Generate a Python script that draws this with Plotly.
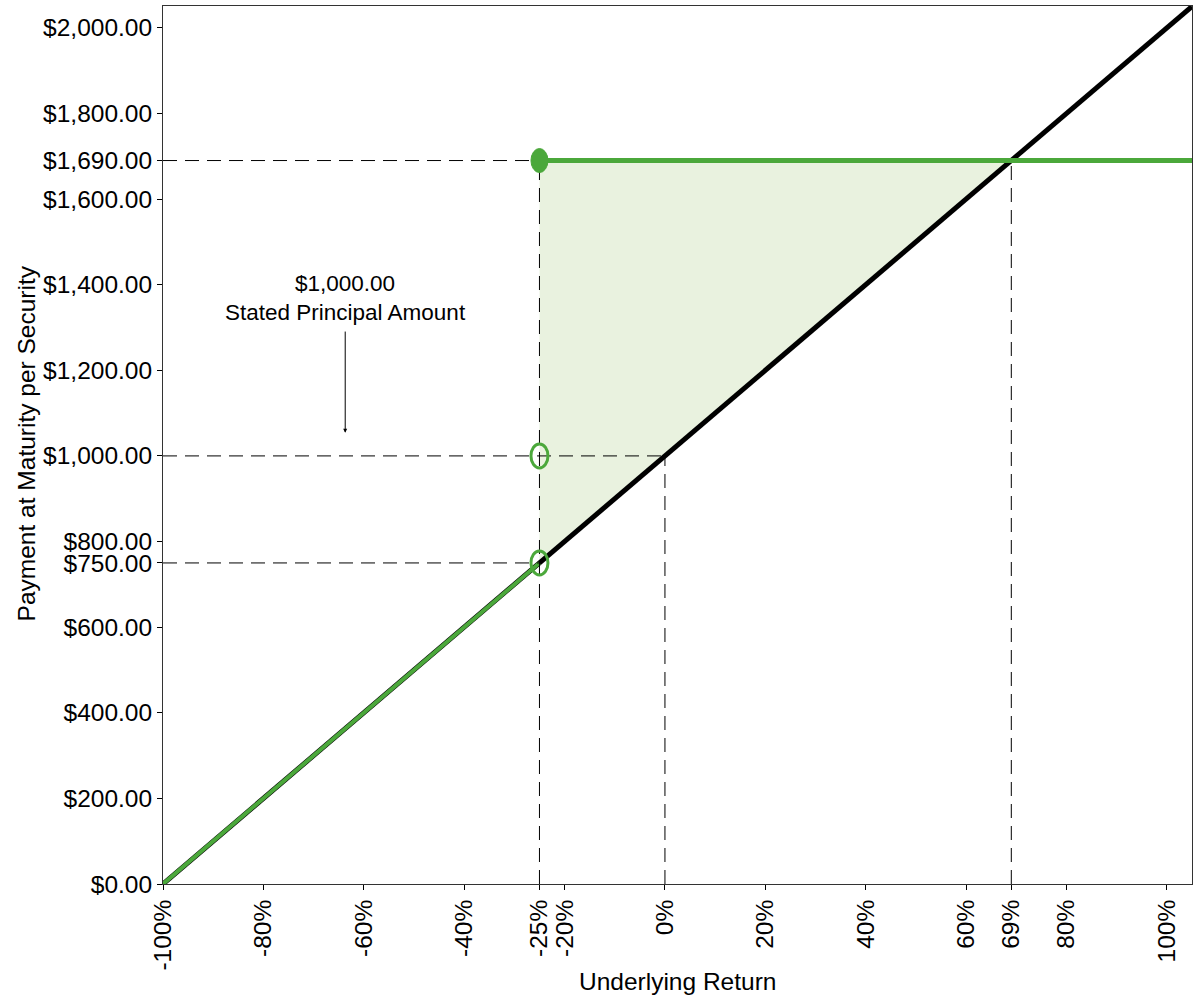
import plotly.graph_objects as go

# payoff data (returns as fractions, payments in $)
buffer_ret = -0.25
cap_ret = 0.69
principal = 1000.0
cap_pay = 1690.0
buffer_pay = 750.0

underlying_x = [-1.0, 1.05]
underlying_y = [0.0, 2050.0]

note_lower_x = [-1.0, -0.25]
note_lower_y = [0.0, 750.0]
note_upper_x = [-0.25, 1.05]
note_upper_y = [1690.0, 1690.0]

fill_x = [-0.25, -0.25, 0.69]
fill_y = [750.0, 1690.0, 1690.0]

x_ticks = [-1.0, -0.8, -0.6, -0.4, -0.25, -0.2, 0.0, 0.2, 0.4, 0.6, 0.69, 0.8, 1.0]
x_ticktext = ["-100%", "-80%", "-60%", "-40%", "-25%", "-20%", "0%",
              "20%", "40%", "60%", "69%", "80%", "100%"]
y_ticks = [0, 200, 400, 600, 750, 800, 1000, 1200, 1400, 1600, 1690, 1800, 2000]

green = "#4ba83b"
fill_green = "#e9f2df"
font_name = "Liberation Sans, Arial, sans-serif"

fig = go.Figure()

# shaded area between note payoff and underlying
fig.add_trace(go.Scatter(x=fill_x, y=fill_y, fill="toself", fillcolor=fill_green,
                         mode="none", hoverinfo="skip", showlegend=False))

# underlying (black) and note (green) lines
fig.add_trace(go.Scatter(x=underlying_x, y=underlying_y, mode="lines",
                         line=dict(color="black", width=5), showlegend=False))
fig.add_trace(go.Scatter(x=note_lower_x, y=note_lower_y, mode="lines",
                         line=dict(color=green, width=4), showlegend=False))
fig.add_trace(go.Scatter(x=note_upper_x, y=note_upper_y, mode="lines",
                         line=dict(color=green, width=5), showlegend=False))

shapes = []
dash = dict(color="black", width=1, dash="14px,8px")
# horizontal guides from y axis
for yv, xv in [(cap_pay, buffer_ret), (principal, 0.0), (buffer_pay, buffer_ret)]:
    shapes.append(dict(type="line", xref="x", yref="y", x0=underlying_x[0], x1=xv,
                       y0=yv, y1=yv, line=dash, layer="above"))
# vertical guides from x axis
for xv, yv in [(buffer_ret, cap_pay), (0.0, principal), (cap_ret, cap_pay)]:
    shapes.append(dict(type="line", xref="x", yref="y", x0=xv, x1=xv,
                       y0=0, y1=yv, line=dash, layer="above"))

# ellipse markers at the buffer level (pixel sized)
for yv, filled in [(cap_pay, True), (principal, False), (buffer_pay, False)]:
    shapes.append(dict(type="circle", xref="x", yref="y",
                       xsizemode="pixel", ysizemode="pixel",
                       xanchor=buffer_ret, yanchor=yv,
                       x0=-8.5, x1=8.5, y0=-12, y1=12,
                       fillcolor=green if filled else "rgba(0,0,0,0)",
                       line=dict(color=green, width=3 if not filled else 1),
                       layer="above"))

annotations = [
    dict(x=-0.637, y=1369, xref="x", yref="y", showarrow=False,
         text="$1,000.00<br>Stated Principal Amount",
         font=dict(size=22.5, color="black", family=font_name), align="center"),
    dict(x=-0.637, y=1054, ax=-0.637, ay=1294, xref="x", yref="y",
         axref="x", ayref="y", text="", showarrow=True, arrowhead=2,
         arrowsize=0.8, arrowwidth=1, arrowcolor="black"),
    # axis titles
    dict(x=0.5, y=-0.093, xref="paper", yref="paper", xanchor="center",
         yanchor="top", showarrow=False, text="Underlying Return",
         font=dict(size=24.5, color="black", family=font_name)),
    dict(x=-0.133, y=0.502, xref="paper", yref="paper", xanchor="center",
         showarrow=False, text="Payment at Maturity per Security", textangle=-90,
         font=dict(size=24.5, color="black", family=font_name)),
]

fig.update_layout(
    width=1200, height=1000,
    margin=dict(l=163, r=8, t=6, b=116),
    plot_bgcolor="white", paper_bgcolor="white",
    font=dict(family=font_name, size=24, color="black"),
    shapes=shapes, annotations=annotations,
    xaxis=dict(range=[-1.0, 1.05], tickvals=x_ticks, ticktext=x_ticktext,
               tickangle=-90, ticks="outside", ticklen=5, tickcolor="black",
               showgrid=False, zeroline=False, showline=True, linecolor="#333",
               linewidth=1, mirror=True, tickfont=dict(size=24.5),
               automargin=False),
    yaxis=dict(range=[0, 2051], tickvals=y_ticks, tickformat="$,.2f",
               ticks="outside", ticklen=5, tickcolor="black",
               showgrid=False, zeroline=False, showline=True, linecolor="#333",
               linewidth=1, mirror=True, tickfont=dict(size=24.5),
               automargin=False),
)

# drop the default page margin so the figure sits at the window's corner
fig.write_html("out.html", config={"displayModeBar": False},
               post_script="document.body.style.margin='0';")
